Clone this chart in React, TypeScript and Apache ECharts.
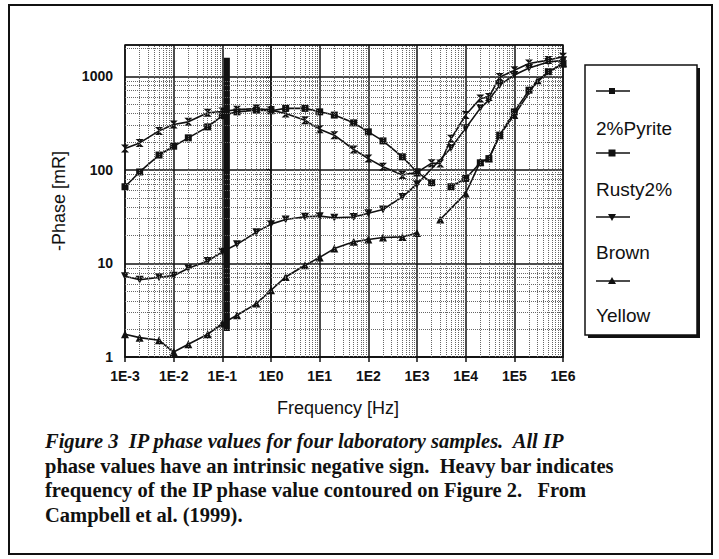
import React, { useEffect, useRef } from "react";
import * as echarts from "echarts";

// ---- data (frequency in Hz, -phase in mR) ----
const lowFreq = [0.001, 0.002, 0.005, 0.01, 0.02, 0.05, 0.1, 0.2, 0.5, 1, 2, 5, 10, 20, 50, 100, 200, 500, 1000];

const pyriteFreq = [...lowFreq, 2000, 3000, 5000, 1e4, 2e4, 3e4, 5e4, 1e5, 2e5, 5e5, 1e6];
const pyritePhase = [169, 194, 261, 306, 326, 407, 420, 440, 452, 435, 401, 340, 271, 235, 165, 132, 108, 88, 94, 118, 117, 215, 385, 580, 600, 980, 1160, 1370, 1490, 1620];

const rustyFreq = [...lowFreq, 2000, null, 5000, 1e4, 2e4, 3e4, 5e4, 1e5, 2e5, 5e5, 1e6];
const rustyPhase = [66, 95, 144, 179, 220, 288, 380, 417, 435, 428, 454, 454, 417, 385, 318, 255, 204, 138, 95, 73, null, 66, 81, 119, 132, 235, 417, 710, 1120, 1350];

const brownFreq = [...lowFreq, 5000, 1e4, 2e4, 3e4, 5e4, 1e5, 2e5, 5e5, 1e6];
const brownPhase = [7.3, 6.7, 7.1, 7.4, 8.9, 10.6, 13.3, 16, 21.6, 26.3, 29.5, 31.6, 32, 30.8, 31.4, 34.4, 37.7, 51.4, 70.3, 171, 279, 457, 556, 805, 1030, 1225, 1420, 1480];

const yellowFreq = [...lowFreq, null, 3000, 1e4, 2e4, 3e4, 5e4, 1e5, 3e5, 1e6];
const yellowPhase = [1.75, 1.61, 1.51, 1.13, 1.37, 1.75, 2.28, 2.79, 3.72, 5.17, 7.17, 9.57, 11.6, 14.4, 17.0, 18.0, 18.9, 19.2, 21.2, null, 29.5, 56, 122, 132, 235, 385, 910, 1380];

// heavy bar: frequency of contoured phase value
const barFreq = [0.124, 0.124];
const barPhase = [1.9, 1580];

const seriesNames = ["2%Pyrite", "Rusty2%", "Brown", "Yellow"];
const xTickLabels = ["1E-3", "1E-2", "1E-1", "1E0", "1E1", "1E2", "1E3", "1E4", "1E5", "1E6"];
const yTickLabels = ["1", "10", "100", "1000"];
const captionLines = [
  "Figure 3  IP phase values for four laboratory samples.  All IP",
  "phase values have an intrinsic negative sign.  Heavy bar indicates",
  "frequency of the IP phase value contoured on Figure 2.   From",
  "Campbell et al. (1999).",
];

const X_MIN = -3, X_MAX = 6, Y_MIN = 0, Y_MAX = Math.log10(2160);

function toPairs(f: (number | null)[], p: (number | null)[]) {
  return f.map((fv, i) => {
    const pv = p[i];
    if (fv == null || pv == null) return ["-", "-"];
    return [Math.log10(fv), Math.log10(pv)];
  });
}

const HOURGLASS = "path://M0,0L10,0L0,10L10,10Z";

export default function App() {
  const ref = useRef<HTMLDivElement>(null);
  useEffect(() => {
    if (!ref.current) return;
    const chart = echarts.init(ref.current, null, { renderer: "svg" });

    const minorX: any[] = [];
    for (let n = -3; n < 6; n++) for (let k = 2; k <= 9; k++) minorX.push({ xAxis: n + Math.log10(k) });
    const minorY: any[] = [];
    for (let n = 0; n < 4; n++)
      for (let k = 2; k <= 9; k++) {
        const v = n + Math.log10(k);
        if (v < Y_MAX) minorY.push({ yAxis: v });
      }

    const lineBase = {
      type: "line",
      z: 3,
      connectNulls: false,
      lineStyle: { color: "#111", width: 1.6 },
      itemStyle: { color: "#111" },
    };

    const font = "Liberation Sans, Arial, sans-serif";
    const legendY = [91, 153, 217, 281];
    const legendTextY = [128, 189, 252, 315];

    const legendGraphics: any[] = [
      { type: "rect", shape: { x: 588, y: 68, width: 112, height: 270 }, style: { fill: "#111" }, z: 10 },
      { type: "rect", shape: { x: 585, y: 65, width: 112, height: 270 }, style: { fill: "#fff", stroke: "#111", lineWidth: 1.5 }, z: 11 },
    ];
    seriesNames.forEach((name, i) => {
      const y = legendY[i];
      legendGraphics.push({ type: "line", shape: { x1: 596, y1: y, x2: 630, y2: y }, style: { stroke: "#111", lineWidth: 1.5 }, z: 12 });
      if (i < 2) {
        const s = i === 0 ? 6 : 7;
        legendGraphics.push({ type: "rect", shape: { x: 612 - s / 2, y: y - s / 2, width: s, height: s }, style: { fill: "#111" }, z: 13 });
      } else if (i === 2) {
        legendGraphics.push({ type: "polygon", shape: { points: [[608, y - 3], [616, y - 3], [612, y + 4]] }, style: { fill: "#111" }, z: 13 });
      } else {
        legendGraphics.push({ type: "polygon", shape: { points: [[608, y + 3], [616, y + 3], [612, y - 4]] }, style: { fill: "#111" }, z: 13 });
      }
      legendGraphics.push({
        type: "text", x: 596, y: legendTextY[i], z: 13,
        style: { text: name, fill: "#111", font: `19px ${font}`, textVerticalAlign: "middle" },
      });
    });

    const captionGraphics = captionLines.map((t, i) => ({
      type: "text", x: 45, y: 441 + i * 24.5, z: 13,
      style: {
        text: t, fill: "#111",
        font: `${i === 0 ? "italic " : ""}bold 20.5px "Liberation Serif", "Times New Roman", serif`,
        textVerticalAlign: "middle",
      },
    }));

    const option: any = {
      animation: false,
      backgroundColor: "#fff",
      grid: { left: 125, top: 45, width: 438, height: 312, show: true, borderColor: "#111", borderWidth: 1.5, backgroundColor: "transparent" },
      xAxis: {
        type: "value", min: X_MIN, max: X_MAX, interval: 1,
        name: "Frequency [Hz]", nameLocation: "middle", nameGap: 42,
        nameTextStyle: { fontFamily: font, fontSize: 18, color: "#111", padding: [0, 12, 0, 0] },
        axisLine: { show: true, lineStyle: { color: "#111", width: 1.5 } },
        axisTick: { show: true, length: 5, lineStyle: { color: "#111", width: 1.5 } },
        axisLabel: {
          fontFamily: font, fontSize: 14, fontWeight: "bold", color: "#111", margin: 12,
          formatter: (v: number) => (Number.isInteger(v) ? xTickLabels[v - X_MIN] : ""),
        },
        splitLine: { show: true, lineStyle: { color: "#111", width: 1.5 } },
      },
      yAxis: {
        type: "value", min: Y_MIN, max: Y_MAX, interval: 1,
        name: "-Phase [mR]", nameLocation: "middle", nameGap: 57, nameRotate: 90,
        nameTextStyle: { fontFamily: font, fontSize: 18, color: "#111" },
        axisLine: { show: true, lineStyle: { color: "#111", width: 1.5 } },
        axisTick: { show: true, length: 5, lineStyle: { color: "#111", width: 1.5 } },
        axisLabel: {
          fontFamily: font, fontSize: 14, fontWeight: "bold", color: "#111", margin: 12,
          formatter: (v: number) => (Number.isInteger(v) ? yTickLabels[v] : ""),
        },
        splitLine: { show: true, lineStyle: { color: "#111", width: 1.5 } },
      },
      series: [
        {
          name: "minorGrid", type: "line", z: 1, data: [[X_MIN, Y_MIN]], symbol: "none",
          lineStyle: { opacity: 0 },
          markLine: {
            silent: true, symbol: ["none", "none"], label: { show: false }, animation: false,
            lineStyle: { type: "dotted", color: "#666", width: 1 },
            data: [...minorX, ...minorY],
          },
        },
        {
          name: "bar", type: "line", z: 4, data: toPairs(barFreq, barPhase), symbol: "none",
          lineStyle: { color: "#111", width: 6, cap: "butt" },
        },
        { ...lineBase, name: seriesNames[0], data: toPairs(pyriteFreq, pyritePhase), symbol: HOURGLASS, symbolSize: 8 },
        { ...lineBase, name: seriesNames[1], data: toPairs(rustyFreq, rustyPhase), symbol: "rect", symbolSize: 7 },
        { ...lineBase, name: seriesNames[2], data: toPairs(brownFreq, brownPhase), symbol: "triangle", symbolRotate: 180, symbolSize: 8 },
        { ...lineBase, name: seriesNames[3], data: toPairs(yellowFreq, yellowPhase), symbol: "triangle", symbolSize: 8 },
      ],
      graphic: [
        { type: "rect", shape: { x: 9, y: 5, width: 703, height: 549 }, style: { fill: "none", stroke: "#111", lineWidth: 2 }, z: 20 },
        ...legendGraphics,
        ...captionGraphics,
      ],
    };
    chart.setOption(option);
    return () => chart.dispose();
  }, []);

  return <div ref={ref} style={{ position: "fixed", left: 0, top: 0, width: 719, height: 559 }} />;
}
